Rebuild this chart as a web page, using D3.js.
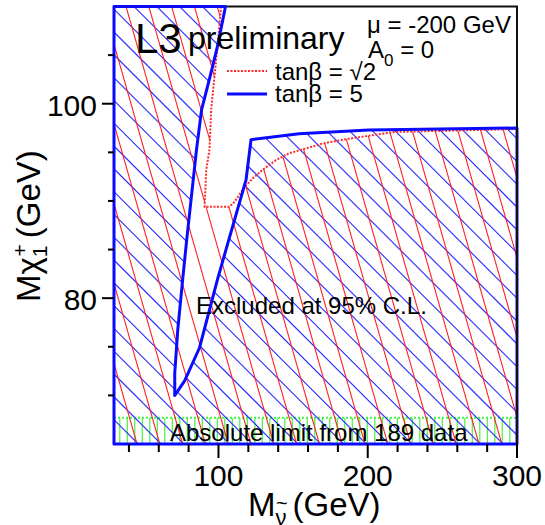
<!DOCTYPE html>
<html><head><meta charset="utf-8">
<script src="https://cdn.jsdelivr.net/npm/d3@7"></script>
<style>html,body{margin:0;padding:0;background:#fff;} text{font-family:"Liberation Sans",Arial,sans-serif;fill:#000;}</style>
</head><body>
<svg id="c" width="545" height="525"></svg>
<script>
// ---- data ----
const xDomain = [30, 300];
const yDomain = [65, 110];
const xMajorTicks = [100, 200, 300];
const xMinorTicks = [40, 60, 80, 120, 140, 160, 180, 220, 240, 260, 280];
const yMajorTicks = [80, 100];
const yMinorTicks = [70, 75, 85, 90, 95, 105];
// tanβ = 5 boundary (M_sneutrino, M_chargino)
const blueX = [104.7, 99.3, 96.0, 88.7, 85.3, 78.7, 76.0, 72.7, 70.7, 70.7, 77.3, 87.3, 99.3, 106.9, 118.5, 121.8, 154.0, 200.7, 300.0];
const blueY = [110.0, 105.9, 103.8, 99.4, 95.3, 86.0, 81.9, 76.7, 72.3, 70.0, 71.5, 74.9, 81.9, 86.0, 92.2, 96.3, 96.9, 97.3, 97.5];
// tanβ = √2 boundary
const redX = [101.8, 99.3, 98.0, 95.1, 94.0, 91.8, 90.7, 107.3, 110.7, 115.1, 118.5, 122.9, 129.5, 138.5, 147.3, 158.5, 169.5, 187.3, 218.7, 300.0];
const redY = [110.0, 105.9, 103.8, 99.4, 95.3, 93.2, 89.4, 89.4, 89.9, 90.9, 91.6, 92.3, 93.2, 94.2, 94.9, 95.4, 95.9, 96.4, 97.1, 97.4];
const absLimit = 67.7;

// ---- layout ----
const L = 114, R = 517, T = 6.5, B = 444;
const svg = d3.select("#c");
const x = d3.scaleLinear().domain(xDomain).range([L, R]);
const y = d3.scaleLinear().domain(yDomain).range([B, T]);
const line = d3.line().x(d => x(d[0])).y(d => y(d[1]));

function excluded(xs, ys) {
  const pts = [[xDomain[0], yDomain[1]]];
  xs.forEach((v, i) => pts.push([v, ys[i]]));
  pts.push([xDomain[1], yDomain[0]], [xDomain[0], yDomain[0]]);
  return pts;
}
const bluePoly = excluded(blueX, blueY);
const redPoly = excluded(redX, redY);

const defs = svg.append("defs");
defs.append("clipPath").attr("id", "clipRed").append("path").attr("d", line(redPoly) + "Z");
defs.append("clipPath").attr("id", "clipBlue").append("path").attr("d", line(bluePoly) + "Z");
defs.append("clipPath").attr("id", "clipBand").append("rect")
  .attr("x", L).attr("y", y(absLimit)).attr("width", R - L).attr("height", B - y(absLimit));

// frame
svg.append("rect").attr("x", L).attr("y", T).attr("width", R - L).attr("height", B - T)
  .attr("fill", "none").attr("stroke", "#111").attr("stroke-width", 2);

// green band hatch
const gBand = svg.append("g").attr("clip-path", "url(#clipBand)");
for (let gx = 127.3 - 7.5 * 2; gx < R; gx += 7.5) {
  gBand.append("line").attr("x1", gx).attr("x2", gx).attr("y1", y(absLimit)).attr("y2", B)
    .attr("stroke", "#44f244").attr("stroke-width", 1.2);
}
svg.append("line").attr("x1", L).attr("x2", R).attr("y1", y(absLimit)).attr("y2", y(absLimit))
  .attr("stroke", "#44f244").attr("stroke-width", 2).attr("stroke-dasharray", "2,2");

// blue hatch (45°)
const gBlue = svg.append("g").attr("clip-path", "url(#clipBlue)");
const sp = 22.8;
for (let c = 218.7 - sp * 30; c < 600; c += sp) {
  gBlue.append("line").attr("x1", c).attr("y1", 0).attr("x2", c + 460).attr("y2", 460)
    .attr("stroke", "#2a2aff").attr("stroke-width", 1.1);
}
// red hatch (steep)
const gRed = svg.append("g").attr("clip-path", "url(#clipRed)");
const k = 3.5;
for (let c = 130 - sp * 10; c < 620; c += sp) {
  gRed.append("line").attr("x1", c - 180 / k).attr("y1", 0).attr("x2", c + 280 / k).attr("y2", 460)
    .attr("stroke", "#ff2020").attr("stroke-width", 1.1);
}

// boundaries
svg.append("path").attr("d", line(redX.map((v, i) => [v, redY[i]])))
  .attr("fill", "none").attr("stroke", "#ff2a2a").attr("stroke-width", 2).attr("stroke-dasharray", "2,1.5");
svg.append("path").attr("d", line(bluePoly) + "Z")
  .attr("fill", "none").attr("stroke", "#0a0aff").attr("stroke-width", 3).attr("stroke-linejoin", "round");
svg.append("line").attr("x1", R).attr("x2", R).attr("y1", T).attr("y2", B).attr("stroke", "#111").attr("stroke-width", 2);

// ticks
const tk = svg.append("g").attr("stroke", "#000").attr("stroke-width", 2);
xMajorTicks.forEach(v => tk.append("line").attr("x1", x(v)).attr("x2", x(v)).attr("y1", B).attr("y2", B + 14));
xMinorTicks.forEach(v => tk.append("line").attr("x1", x(v)).attr("x2", x(v)).attr("y1", B).attr("y2", B + 8));
yMajorTicks.forEach(v => tk.append("line").attr("x1", L).attr("x2", L - 12).attr("y1", y(v)).attr("y2", y(v)));
yMinorTicks.forEach(v => tk.append("line").attr("x1", L).attr("x2", L - 6).attr("y1", y(v)).attr("y2", y(v)));

xMajorTicks.forEach(v => svg.append("text").attr("x", x(v)).attr("y", 486).attr("text-anchor", "middle")
  .attr("font-size", 30).text(v));
yMajorTicks.forEach(v => svg.append("text").attr("x", 97).attr("y", y(v) + 12).attr("text-anchor", "end")
  .attr("font-size", 30).text(v));

// axis titles
const xt = svg.append("text").attr("x", 248).attr("y", 516).attr("font-size", 33);
xt.append("tspan").text("M");
xt.append("tspan").attr("font-size", 22).attr("dy", 9).text("ν");
xt.append("tspan").attr("dy", -9).attr("dx", 6).text("(GeV)");
svg.append("text").attr("x", 276).attr("y", 510).attr("font-size", 20).text("~");

const yt = svg.append("text").attr("transform", "translate(40,302) rotate(-90)").attr("font-size", 33);
yt.append("tspan").text("Mχ");
yt.append("tspan").attr("font-size", 21).attr("dy", 7).text("1");
yt.append("tspan").attr("font-size", 21).attr("dx", -11).attr("dy", -20).text("+");
yt.append("tspan").attr("dy", 13).attr("dx", 6).text("(GeV)");

// annotations
svg.append("text").attr("x", 135).attr("y", 53).attr("font-size", 42).text("L3");
svg.append("text").attr("x", 188).attr("y", 49).attr("font-size", 32).text("preliminary");
svg.append("text").attr("x", 367).attr("y", 33).attr("font-size", 24).text("μ = -200 GeV");
const a0 = svg.append("text").attr("x", 368).attr("y", 58).attr("font-size", 24);
a0.append("tspan").text("A");
a0.append("tspan").attr("font-size", 17).attr("dy", 8).text("0");
a0.append("tspan").attr("dy", -8).text(" = 0");

svg.append("line").attr("x1", 227).attr("x2", 267).attr("y1", 71).attr("y2", 71)
  .attr("stroke", "#ff2a2a").attr("stroke-width", 2).attr("stroke-dasharray", "2,1.5");
svg.append("line").attr("x1", 227).attr("x2", 267).attr("y1", 94).attr("y2", 94)
  .attr("stroke", "#0a0aff").attr("stroke-width", 3);
svg.append("text").attr("x", 275).attr("y", 80).attr("font-size", 24).text("tanβ = √2");
svg.append("text").attr("x", 275).attr("y", 102).attr("font-size", 24).text("tanβ = 5");

svg.append("text").attr("x", 196).attr("y", 314).attr("font-size", 24).text("Excluded at 95% C.L.");
svg.append("text").attr("x", 170).attr("y", 441).attr("font-size", 24).text("Absolute limit from 189 data");
</script>
</body></html>
